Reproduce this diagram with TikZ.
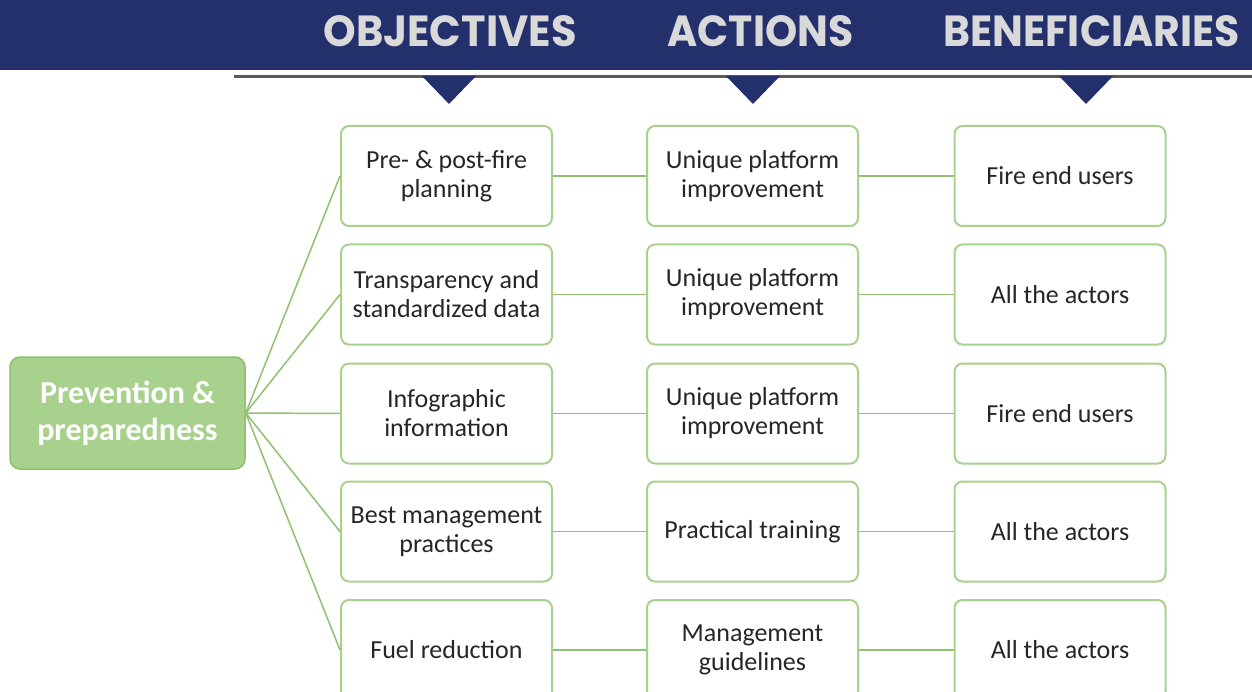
\documentclass[tikz,border=0pt]{standalone}
\usepackage{fontspec}
\setmainfont{Carlito}
\newfontfamily\headfont{Poppins}
\usepackage{graphicx}
\definecolor{navy}{HTML}{24306C}
\definecolor{headtxt}{HTML}{D9D9D9}
\definecolor{rulegray}{HTML}{595959}
\definecolor{boxgreen}{HTML}{A9D18E}
\definecolor{rootborder}{HTML}{8EBF70}
\definecolor{conngreen}{HTML}{8FC16F}
\definecolor{boxtxt}{HTML}{262626}
\tikzset{
  itembox/.style={draw=boxgreen, line width=2pt, rounded corners=8pt, fill=white,
    minimum width=211pt, minimum height=100pt, inner sep=0pt, align=center,
    text=boxtxt, font=\fontsize{26}{29}\selectfont},
  rootbox/.style={draw=rootborder, line width=1.5pt, fill=boxgreen, rounded corners=10pt,
    minimum width=235pt, minimum height=112pt, inner sep=0pt, align=center,
    text=white, font=\fontsize{32}{37}\selectfont\bfseries},
  conn/.style={draw=conngreen, line width=1.5pt},
  headtri/.style={fill=navy, draw=none},
  headlabel/.style={text=headtxt, inner sep=0pt}
}
\begin{document}
\begin{tikzpicture}[x=1pt,y=-1pt]
\useasboundingbox (0,0) rectangle (1252,692);
\clip (0,0) rectangle (1252,692);
% banner
\fill[navy] (0,0) rectangle (1252,70);
\draw[rulegray, line width=3pt] (234,76.5) -- (1252,76.5);
\node[headlabel] (hobj) at (450,31) {\resizebox{253pt}{31pt}{\headfont\bfseries OBJECTIVES}};
\node[headlabel] (hact) at (760.5,31) {\resizebox{186pt}{31pt}{\headfont\bfseries ACTIONS}};
\node[headlabel] (hben) at (1091.5,31) {\resizebox{296pt}{31pt}{\headfont\bfseries BENEFICIARIES}};
\fill[headtri] (422,76) -- (476,76) -- (449,104) -- cycle;
\fill[headtri] (726,76) -- (780,76) -- (753,104) -- cycle;
\fill[headtri] (1059,76) -- (1113,76) -- (1086,104) -- cycle;
% root
\node[rootbox] (root) at (127.5,413) {Prevention \&\\preparedness};
% objectives
\node[itembox] (o1) at (446.5,176) {Pre- \& post-fire\\planning};
\node[itembox] (o2) at (446.5,294.5) {Transparency and\\standardized data};
\node[itembox] (o3) at (446.5,413.5) {Infographic\\information};
\node[itembox] (o4) at (446.5,531.5) {Best management\\practices};
\node[itembox] (o5) at (446.5,650) {Fuel reduction};
% actions
\node[itembox] (a1) at (752.5,176) {Unique platform\\improvement};
\node[itembox] (a2) at (752.5,294.5) {Unique platform\\improvement};
\node[itembox] (a3) at (752.5,413.5) {Unique platform\\improvement};
\node[itembox] (a4) at (752.5,531.5) {Practical training};
\node[itembox] (a5) at (752.5,650) {Management\\guidelines};
% beneficiaries
\node[itembox] (b1) at (1060,176) {Fire end users};
\node[itembox] (b2) at (1060,294.5) {All the actors};
\node[itembox] (b3) at (1060,413.5) {Fire end users};
\node[itembox] (b4) at (1060,531.5) {All the actors};
\node[itembox] (b5) at (1060,650) {All the actors};
% connectors
\foreach \i in {1,...,5}{
  \draw[conn] (root.east) -- (o\i.west);
  \draw[conn] (o\i.east) -- (a\i.west);
  \draw[conn] (a\i.east) -- (b\i.west);
}
\end{tikzpicture}
\end{document}
